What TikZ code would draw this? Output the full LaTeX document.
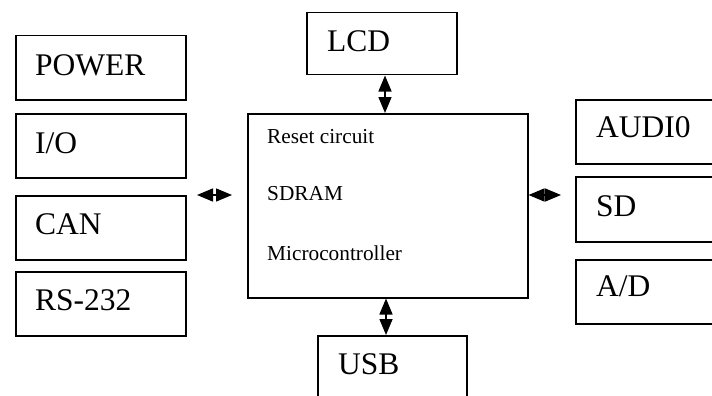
\documentclass[tikz,border=0pt]{standalone}
\usepackage{fontspec}
\setmainfont{Liberation Serif}
\usetikzlibrary{arrows.meta}
\tikzset{
  blk/.style={draw, line width=1.5pt, rectangle, inner sep=0pt, anchor=north west},
  bigtxt/.style={anchor=base west, inner sep=0pt, font=\fontsize{31.5}{36}\selectfont},
  smalltxt/.style={anchor=base west, inner sep=0pt, font=\fontsize{21.3}{25}\selectfont},
  link/.style={line width=1.5pt, {Triangle[length=16pt,width=13pt]}-{Triangle[length=16pt,width=13pt]}, shorten <=0pt, shorten >=0pt}
}
\begin{document}
\begin{tikzpicture}[x=1pt,y=-1pt]
\useasboundingbox (0,0) rectangle (712,396);
\clip (0,0) rectangle (712,396);
% left column
\node[blk, minimum width=170pt, minimum height=64pt] (pwr) at (15,35) {};
\node[blk, minimum width=170pt, minimum height=64pt] (io)  at (15,113) {};
\node[blk, minimum width=170pt, minimum height=64pt] (can) at (15,195) {};
\node[blk, minimum width=170pt, minimum height=64pt] (rs)  at (15,271) {};
\node[bigtxt] (tpwr) at (35,76) {POWER};
\node[bigtxt] (tio)  at (35,153) {I/O};
\node[bigtxt] (tcan) at (35,234) {CAN};
\node[bigtxt] (trs)  at (35,310) {RS-232};
% top and bottom
\node[blk, minimum width=150pt, minimum height=62pt] (lcd) at (306,12) {};
\node[bigtxt] (tlcd) at (327,52) {LCD};
\node[blk, minimum width=149pt, minimum height=80pt] (usb) at (317,335) {};
\node[bigtxt] (tusb) at (338,374) {USB};
% main board
\node[blk, minimum width=280pt, minimum height=184pt] (mcu) at (247,113) {};
\node[smalltxt] (t1) at (267,143) {Reset circuit};
\node[smalltxt] (t2) at (267,200) {SDRAM};
\node[smalltxt] (t3) at (267,260) {Microcontroller};
% right column
\node[blk, minimum width=150pt, minimum height=64pt] (aud) at (575,99) {};
\node[blk, minimum width=150pt, minimum height=65pt] (sd)  at (575,176) {};
\node[blk, minimum width=150pt, minimum height=64pt] (ad)  at (575,259) {};
\node[bigtxt] (taud) at (596,137) {AUDI0};
\node[bigtxt] (tsd)  at (596,216) {SD};
\node[bigtxt] (tad)  at (596,296) {A/D};
% connectors
\coordinate (la) at (197,195);
\coordinate (lb) at (232,195);
\coordinate (rb) at (561,195);
\draw[link] (la) -- (lb);
\draw[link] (mcu.east |- rb) -- (rb);
\draw[link] (lcd.south -| 385,0) -- (mcu.north -| 385,0);
\draw[link] (mcu.south -| 386,0) -- (usb.north -| 386,0);
\end{tikzpicture}
\end{document}
